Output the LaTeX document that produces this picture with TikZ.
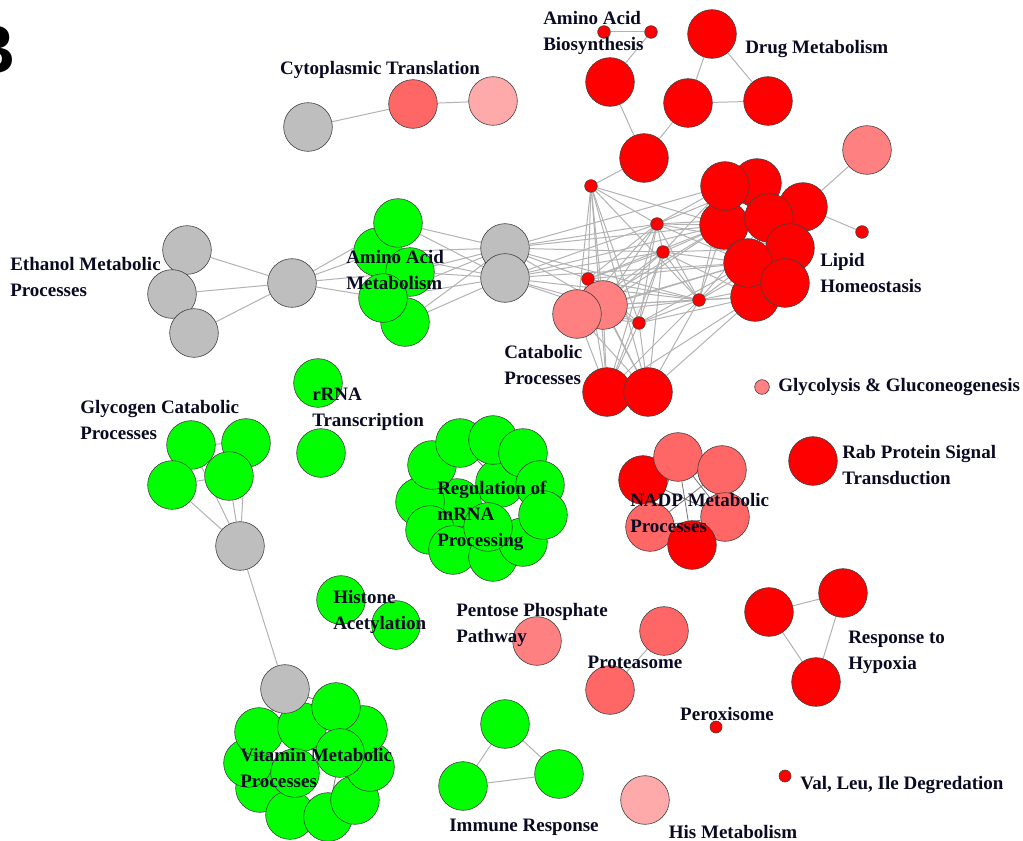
\documentclass[tikz,border=0pt]{standalone}
\usepackage{fontspec}
\setmainfont{Liberation Serif}
\newfontfamily\bigsans{Liberation Sans}
\pgfdeclarelayer{bg}
\pgfsetlayers{bg,main}
\definecolor{nred}{HTML}{FF0000}
\definecolor{npr}{HTML}{FF6666}
\definecolor{npk}{HTML}{FF8080}
\definecolor{nlp}{HTML}{FFAAAA}
\definecolor{ngr}{HTML}{00FF00}
\definecolor{ngy}{HTML}{BEBEBE}
\definecolor{txt}{HTML}{0A0A23}
\tikzset{
 nd/.style={circle, draw=black!75, line width=0.45pt, inner sep=0pt, minimum size=36.5pt},
 sm/.style={circle, draw=black!75, line width=0.45pt, inner sep=0pt, minimum size=9.5pt, fill=nred},
 lnk/.style={draw=black!30, line width=0.75pt},
 dlnk/.style={draw=black!55, line width=0.6pt},
 lbl/.style={font=\fontsize{14.25}{19.5}\selectfont\bfseries, text=txt, align=left, inner sep=0pt, yshift=-1.8pt},
}
\begin{document}
\begin{tikzpicture}[x=0.75pt,y=-0.75pt]
\useasboundingbox (0,0) rectangle (1023,841);
\node[font=\bigsans\bfseries\fontsize{52}{52}\selectfont, anchor=east, inner sep=0pt] (bl) at (16,50) {B};

% ---------- Cytoplasmic translation
\node[nd,fill=ngy] (cg) at (308,127) {};
\node[nd,fill=npr] (cr) at (413,104) {};
\node[nd,fill=nlp] (cp) at (493,101) {};

% ---------- Amino acid biosynthesis / drug metabolism
\node[sm] (ab1) at (604,32) {};
\node[sm] (ab2) at (651,32) {};
\node[nd,fill=nred] (ab3) at (610,82) {};
\node[nd,fill=nred] (h1) at (644,158) {};
\node[nd,fill=nred] (dm1) at (712,34) {};
\node[nd,fill=nred] (dm2) at (688,103) {};
\node[nd,fill=nred] (dm3) at (768,101) {};

% ---------- Lipid cluster
\node[nd,fill=npk] (lp) at (867,150) {};
\node[sm] (ls) at (862,232) {};
\node[nd,fill=nred] (L9) at (755,297) {};
\node[nd,fill=nred] (L5) at (724,225) {};
\node[nd,fill=nred] (L2) at (757,183) {};
\node[nd,fill=nred] (L3) at (803,207) {};
\node[nd,fill=nred] (L1) at (725,186) {};
\node[nd,fill=nred] (L4) at (769,218) {};
\node[nd,fill=nred] (L6) at (790,248) {};
\node[nd,fill=nred] (L7) at (748,263) {};
\node[nd,fill=nred] (L8) at (785,283) {};

% ---------- central small nodes
\node[sm] (s1) at (591,186) {};
\node[sm] (s2) at (657,224) {};
\node[sm] (s3) at (663,252) {};
\node[sm] (s4) at (588,279) {};
\node[sm] (s5) at (699,300) {};
\node[sm] (s6) at (639,323) {};
\node[nd,fill=npk] (c1) at (603,305) {};
\node[nd,fill=npk] (c2) at (577,314) {};
\node[nd,fill=nred] (r1) at (607,392) {};
\node[nd,fill=nred] (r2) at (648,392) {};

% ---------- gray pair
\node[nd,fill=ngy] (g1) at (505,248) {};
\node[nd,fill=ngy] (g2) at (505,278) {};

% ---------- amino acid metabolism
\node[nd,fill=ngr] (a2) at (378,252) {};
\node[nd,fill=ngr] (a3) at (410,272) {};
\node[nd,fill=ngr] (a1) at (398,223) {};
\node[nd,fill=ngr] (a5) at (405,322) {};
\node[nd,fill=ngr] (a4) at (383,298) {};

% ---------- ethanol
\node[nd,fill=ngy] (hub) at (292,283) {};
\node[nd,fill=ngy] (e1) at (187,250) {};
\node[nd,fill=ngy] (e2) at (172,294) {};
\node[nd,fill=ngy] (e3) at (194,333) {};

% ---------- rRNA
\node[nd,fill=ngr] (rr1) at (318,383) {};
\node[nd,fill=ngr] (rr2) at (321,453) {};

% ---------- glycogen
\node[nd,fill=ngr] (gl2) at (246,443) {};
\node[nd,fill=ngr] (gl1) at (191,445) {};
\node[nd,fill=ngr] (gl4) at (172,485) {};
\node[nd,fill=ngr] (gl3) at (229,476) {};
\node[nd,fill=ngy] (gg) at (240,546) {};

% ---------- mRNA cluster
\node[nd,fill=ngr] (ml) at (500,483) {};
\node[nd,fill=ngr] (mn) at (457,503) {};
\node[nd,fill=ngr] (mk) at (420,502) {};
\node[nd,fill=ngr] (mj) at (430,530) {};
\node[nd,fill=ngr] (mi) at (453,550) {};
\node[nd,fill=ngr] (mh) at (493,557) {};
\node[nd,fill=ngr] (mg) at (523,542) {};
\node[nd,fill=ngr] (mm) at (488,527) {};
\node[nd,fill=ngr] (ma) at (432,465) {};
\node[nd,fill=ngr] (mb) at (460,443) {};
\node[nd,fill=ngr] (mc) at (493,440) {};
\node[nd,fill=ngr] (md) at (523,453) {};
\node[nd,fill=ngr] (me) at (540,485) {};
\node[nd,fill=ngr] (mf) at (543,515) {};

% ---------- histone
\node[nd,fill=ngr] (hi1) at (341,600) {};
\node[nd,fill=ngr] (hi2) at (396,625) {};

% ---------- vitamin cluster
\node[nd,fill=ngr] (vi) at (260,788) {};
\node[nd,fill=ngr] (vk) at (290,815) {};
\node[nd,fill=ngr] (vl) at (328,817) {};
\node[nd,fill=ngr] (vj) at (355,800) {};
\node[nd,fill=ngr] (ve) at (248,763) {};
\node[nd,fill=ngr] (vg2) at (370,767) {};
\node[nd,fill=ngr] (vb) at (363,730) {};
\node[nd,fill=ngr] (vc) at (259,732) {};
\node[nd,fill=ngr] (vd) at (302,727) {};
\node[nd,fill=ngr] (va) at (336,707) {};
\node[nd,fill=ngr] (vf) at (340,753) {};
\node[nd,fill=ngr] (vh) at (295,773) {};
\node[nd,fill=ngy] (vg) at (285,689) {};

% ---------- pentose / proteasome / NADP
\node[nd,fill=npk] (pp) at (537,641) {};
\node[nd,fill=npr] (pr1) at (664,631) {};
\node[nd,fill=npr] (pr2) at (610,690) {};
\node[nd,fill=nred] (na1) at (643,480) {};
\node[nd,fill=npr] (na2) at (678,457) {};
\node[nd,fill=npr] (na3) at (722,470) {};
\node[nd,fill=npr] (na4) at (725,517) {};
\node[nd,fill=npr] (na5) at (650,527) {};
\node[nd,fill=nred] (na6) at (692,545) {};

% ---------- right side singles
\node[sm,fill=npk,minimum size=11pt] (gly) at (762,387) {};
\node[nd,fill=nred] (rab) at (813,461) {};
\node[nd,fill=nred] (hy1) at (769,612) {};
\node[nd,fill=nred] (hy2) at (843,593) {};
\node[nd,fill=nred] (hy3) at (816,682) {};
\node[sm,minimum size=9pt] (per) at (716,727) {};
\node[sm,minimum size=9pt] (val) at (785,776) {};
\node[nd,fill=nlp] (his) at (645,800) {};
\node[nd,fill=ngr] (im1) at (505,724) {};
\node[nd,fill=ngr] (im2) at (463,786) {};
\node[nd,fill=ngr] (im3) at (559,774) {};

% ---------- edges
\begin{pgfonlayer}{bg}
\foreach \a/\b in {cg/cr,cr/cp,ab1/ab2,ab2/ab3,ab3/h1,h1/dm2,dm1/dm2,dm1/dm3,dm2/dm3,h1/s1,
  lp/L3,ls/L3,hub/e1,hub/e2,hub/e3,hub/a2,hub/a3,hub/a4,hub/a1,
  a1/g1,a1/g2,a2/g1,a2/g2,a3/g1,a3/g2,a4/g1,a4/g2,a5/g1,a5/g2,
  g1/s2,g1/s3,g1/s4,g1/s5,g1/c1,g1/L5,g1/L1,g2/s2,g2/s3,g2/s5,g2/c1,g2/L5,g2/L7,g2/s6,
  s1/s4,s1/c1,s1/c2,s1/r1,s1/r2,s1/s6,s1/s5,s1/s2,s1/L5,
  s2/L1,s2/L2,s2/L4,s2/L5,s2/L6,s2/L7,s2/s3,s2/s5,s2/c1,s2/c2,s2/r1,s2/s4,s2/s6,
  s3/s5,s3/L5,s3/L6,s3/L7,s3/L9,s3/c1,s3/c2,s3/r1,s3/r2,s3/s6,s3/L1,
  s5/L5,s5/L6,s5/L7,s5/L8,s5/L9,s5/L1,s5/L4,s5/c1,s5/c2,s5/r1,s5/r2,s5/s6,s5/s4,
  s4/c1,s4/c2,s4/r1,s4/r2,s4/s6,s4/L5,s4/L7,s4/s3,
  s6/r1,s6/r2,s6/c1,s6/c2,s6/L7,s6/L9,
  c1/r1,c1/r2,c2/r1,c2/r2,c1/L5,c1/L7,c1/L9,c2/L5,c2/L7,r1/r2,r2/L9,r1/L9,
  gl1/gl2,gl1/gl4,gl2/gl3,gl3/gl4,gl1/gl3,gl1/gg,gl2/gg,gl3/gg,gl4/gg,gg/vg,
  pr1/pr2,hy1/hy2,hy2/hy3,hy1/hy3,im1/im2,im1/im3,im2/im3}
  \draw[lnk] (\a) -- (\b);
\foreach \a/\b in {ml/mn,ml/mm,mn/mm,ml/mb,ml/md,ml/mf,mm/mg,mn/mk,mm/mi,mn/ma,ml/me,mm/mh,
  vf/vd,vf/vh,vd/vh,vf/vj,vh/vi,vd/vc,vf/vb,vh/vk,vf/vl,vd/va,vg/vd,vg/va,vg/vc,
  na1/na4,na2/na5,na3/na5,na2/na4,na1/na3,na5/na4,na2/na6}
  \draw[dlnk] (\a) -- (\b);
\end{pgfonlayer}

% ---------- labels
\node[lbl,anchor=center] (t1) at (380,68) {Cytoplasmic Translation};
\node[lbl,anchor=west] (t2) at (543,31) {Amino Acid\\Biosynthesis};
\node[lbl,anchor=west] (t3) at (745,47) {Drug Metabolism};
\node[lbl,anchor=west] (t4) at (10,275) {Ethanol Metabolic\\Processes};
\node[lbl,anchor=west] (t5) at (346,268) {Amino Acid\\Metabolism};
\node[lbl,anchor=west] (t6) at (820,271) {Lipid\\Homeostasis};
\node[lbl,anchor=west] (t7) at (504,363) {Catabolic\\Processes};
\node[lbl,anchor=west] (t8) at (778,385) {Glycolysis \& Gluconeogenesis};
\node[lbl,anchor=west] (t9) at (312,407) {rRNA\\Transcription};
\node[lbl,anchor=west] (t10) at (80,418) {Glycogen Catabolic\\Processes};
\node[lbl,anchor=west] (t11) at (842,463) {Rab Protein Signal\\Transduction};
\node[lbl,anchor=west] (t12) at (437,514) {Regulation of\\mRNA\\Processing};
\node[lbl,anchor=west] (t13) at (630,511) {NADP Metabolic\\Processes};
\node[lbl,anchor=west] (t14) at (333,610) {Histone\\Acetylation};
\node[lbl,anchor=west] (t15) at (456,623) {Pentose Phosphate\\Pathway};
\node[lbl,anchor=center] (t16) at (635,660) {Proteasome};
\node[lbl,anchor=west] (t17) at (848,650) {Response to\\Hypoxia};
\node[lbl,anchor=center] (t18) at (727,712) {Peroxisome};
\node[lbl,anchor=west] (t19) at (240,766) {Vitamin Metabolic\\Processes};
\node[lbl,anchor=west] (t20) at (800,783) {Val, Leu, Ile Degredation};
\node[lbl,anchor=center] (t21) at (524,825) {Immune Response};
\node[lbl,anchor=center] (t22) at (733,830) {His Metabolism};
\end{tikzpicture}
\end{document}
